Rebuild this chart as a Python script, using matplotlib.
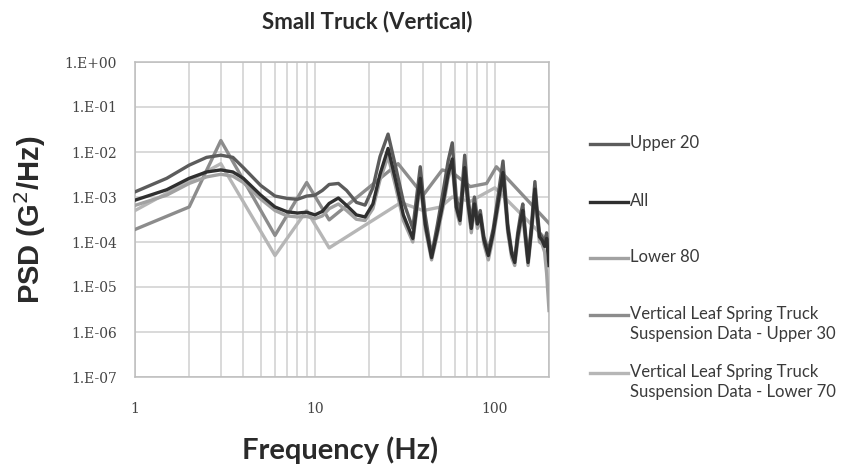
import numpy as np
import matplotlib
matplotlib.use("Agg")
import matplotlib.pyplot as plt
from matplotlib.lines import Line2D
from matplotlib.ticker import FixedLocator, FixedFormatter, LogLocator, NullFormatter

# frequency points shared by the three measured spectra (Hz)
freq = [1, 1.5, 2, 2.5, 3, 3.5, 4, 5, 6, 7, 8, 9, 10, 11, 12, 13.5, 15, 17, 19, 21,
        23, 25.5, 28, 31, 35, 38.5, 41, 44.5, 48, 52, 55, 58, 61, 64, 68, 71, 74, 77,
        80, 83, 87, 92, 98, 104, 111, 118, 124, 129, 134, 139, 143, 148, 153, 160,
        167, 172, 177, 183, 189, 194, 200]

upper_20 = [1.3e-3, 2.6e-3, 5.1e-3, 7.6e-3, 8.5e-3, 7.6e-3, 4.5e-3, 1.8e-3, 1.05e-3, 9.3e-4,
            8.9e-4, 1.05e-3, 1.1e-3, 1.4e-3, 1.9e-3, 2.0e-3, 1.4e-3, 7.6e-4, 6.6e-4, 1.6e-3,
            7.9e-3, 2.5e-2, 5e-3, 8e-4, 2e-4, 4.7e-3, 4e-4, 5e-5, 2.5e-4, 1.6e-3,
            6.3e-3, 1.6e-2, 1e-3, 4e-4, 8.5e-3, 1e-3, 2.5e-4, 1e-3, 3.2e-4, 5e-4,
            1.3e-4, 6.3e-5, 2e-4, 1e-3, 6.3e-3, 2.5e-4, 6.3e-5, 4e-5, 1.6e-4, 4e-4,
            7e-4, 1.6e-4, 4e-5, 2.5e-4, 2.2e-3, 5e-4, 1.6e-4, 1.3e-4, 1e-4, 1.6e-4, 5e-5]

all_data = [8.5e-4, 1.45e-3, 2.6e-3, 3.6e-3, 4.0e-3, 3.6e-3, 2.6e-3, 1.1e-3, 6e-4, 4.7e-4,
            4.4e-4, 4.6e-4, 4e-4, 4.8e-4, 7.2e-4, 9.5e-4, 6.5e-4, 4e-4, 3.6e-4, 7e-4,
            3.2e-3, 1.2e-2, 2.5e-3, 4e-4, 1.2e-4, 2.6e-3, 2.5e-4, 4.5e-5, 1.8e-4, 9e-4,
            3.2e-3, 7e-3, 6e-4, 3e-4, 4.5e-3, 7e-4, 2e-4, 7e-4, 2.5e-4, 4e-4,
            1.1e-4, 5e-5, 1.6e-4, 7e-4, 3.5e-3, 2e-4, 5.5e-5, 3.5e-5, 1.3e-4, 3e-4,
            5e-4, 1.3e-4, 3.5e-5, 2e-4, 1.5e-3, 4e-4, 1.3e-4, 1.1e-4, 8e-5, 1.2e-4, 3e-5]

lower_80 = [6.5e-4, 1.1e-3, 2e-3, 2.8e-3, 3.2e-3, 2.9e-3, 2.1e-3, 9e-4, 5e-4, 3.8e-4,
            3.6e-4, 3.7e-4, 3.3e-4, 3.8e-4, 5.5e-4, 7e-4, 5e-4, 3.2e-4, 3e-4, 5.5e-4,
            2.4e-3, 8e-3, 1.8e-3, 3e-4, 1e-4, 2e-3, 2e-4, 4e-5, 1.5e-4, 7e-4,
            2.6e-3, 5e-3, 5e-4, 2.5e-4, 3.5e-3, 5.5e-4, 1.6e-4, 5.5e-4, 2e-4, 3.2e-4,
            9e-5, 4e-5, 1.3e-4, 5.5e-4, 2.6e-3, 1.6e-4, 4.5e-5, 3e-5, 1e-4, 2.4e-4,
            4e-4, 1e-4, 3e-5, 1.6e-4, 1.1e-3, 3e-4, 1e-4, 9e-5, 6e-5, 2e-5, 3e-6]

# leaf spring suspension breakpoints
leaf_up_freq = [1, 2, 3, 6, 9, 12, 29, 40, 51, 58, 73, 90, 102, 200]
leaf_up_psd = [1.9e-4, 6e-4, 1.8e-2, 1.4e-4, 2.1e-3, 3.1e-4, 5.5e-3, 1.1e-3, 4e-3, 3.5e-3,
               1.7e-3, 2e-3, 4.7e-3, 2.6e-4]
leaf_lo_freq = [1, 3, 6, 9, 12, 30, 40, 50, 58, 73, 100, 200]
leaf_lo_psd = [5e-4, 5.5e-3, 5e-5, 5e-4, 7.4e-5, 7.5e-4, 5e-4, 6e-4, 1e-3, 8e-4, 1.6e-3, 1e-4]

labels = ["Upper 20", "All", "Lower 80",
          "Vertical Leaf Spring Truck\nSuspension Data - Upper 30",
          "Vertical Leaf Spring Truck\nSuspension Data - Lower 70"]
colors = ["#5c5c5c", "#2f2f2f", "#a2a2a2", "#8c8c8c", "#b6b6b6"]

y_ticks = [1e0, 1e-1, 1e-2, 1e-3, 1e-4, 1e-5, 1e-6, 1e-7]
y_ticklabels = ["1.E+00", "1.E-01", "1.E-02", "1.E-03", "1.E-04", "1.E-05", "1.E-06", "1.E-07"]
x_ticks = [1, 10, 100]
x_ticklabels = ["1", "10", "100"]

fig = plt.figure(figsize=(8.47, 4.73), dpi=100)
ax = fig.add_axes([135 / 847, 1 - 377 / 473, 414 / 847, 315 / 473])

series = [(freq, upper_20), (freq, all_data), (freq, lower_80),
          (leaf_up_freq, leaf_up_psd), (leaf_lo_freq, leaf_lo_psd)]
order = [4, 3, 2, 0, 1]  # draw light lines first
for i in order:
    fx, fy = series[i]
    ax.plot(fx, fy, color=colors[i], lw=2.4, solid_joinstyle="round", zorder=3 + order.index(i))

ax.set_xscale("log")
ax.set_yscale("log")
ax.set_xlim(1, 200)
ax.set_ylim(1e-7, 1e0)

ax.yaxis.set_major_locator(FixedLocator(y_ticks))
ax.yaxis.set_major_formatter(FixedFormatter(y_ticklabels))
ax.yaxis.set_minor_locator(FixedLocator([]))
ax.xaxis.set_major_locator(FixedLocator(x_ticks))
ax.xaxis.set_major_formatter(FixedFormatter(x_ticklabels))
ax.xaxis.set_minor_locator(LogLocator(base=10, subs=np.arange(2, 10), numticks=20))
ax.xaxis.set_minor_formatter(NullFormatter())

ax.grid(True, which="both", axis="x", color="#cfcfcf", lw=1.1)
ax.grid(True, which="major", axis="y", color="#cfcfcf", lw=1.1)
ax.set_axisbelow(True)
for s in ax.spines.values():
    s.set_color("#bdbdbd")
    s.set_linewidth(1.1)
ax.tick_params(which="both", length=0)
ax.tick_params(axis="y", pad=13, labelsize=10, labelcolor="#444444")
ax.tick_params(axis="x", pad=18, labelsize=10, labelcolor="#444444")
for lab in ax.get_xticklabels() + ax.get_yticklabels():
    lab.set_family("DejaVu Serif")

fig.text(367 / 847, 1 - 22 / 473, "Small Truck (Vertical)", ha="center", va="center",
         fontsize=16, fontweight="bold", family="Lato", color="#2a2a2a")
fig.text(340 / 847, 1 - 450 / 473, "Frequency (Hz)", ha="center", va="center",
         fontsize=21, fontweight="bold", family="Lato", color="#2a2a2a")
fig.text(30 / 847, 1 - 220 / 473, "PSD (G$^2$/Hz)", ha="center", va="center", rotation=90,
         fontsize=21, fontweight="bold", family="Liberation Sans", color="#2a2a2a")

# legend drawn beside the plot, handle aligned with the first text line
legend_y = [144, 202, 258, 315, 373]
for lab, col, ly in zip(labels, colors, legend_y):
    fig.add_artist(Line2D([590 / 847, 628 / 847], [1 - ly / 473] * 2, color=col, lw=2.4))
    fig.text(630 / 847, 1 - (ly - 9) / 473, lab, ha="left", va="top", fontsize=12,
             family="Lato", color="#3a3a3a", linespacing=1.3)

fig.savefig("out.png", dpi=100, facecolor="white")
